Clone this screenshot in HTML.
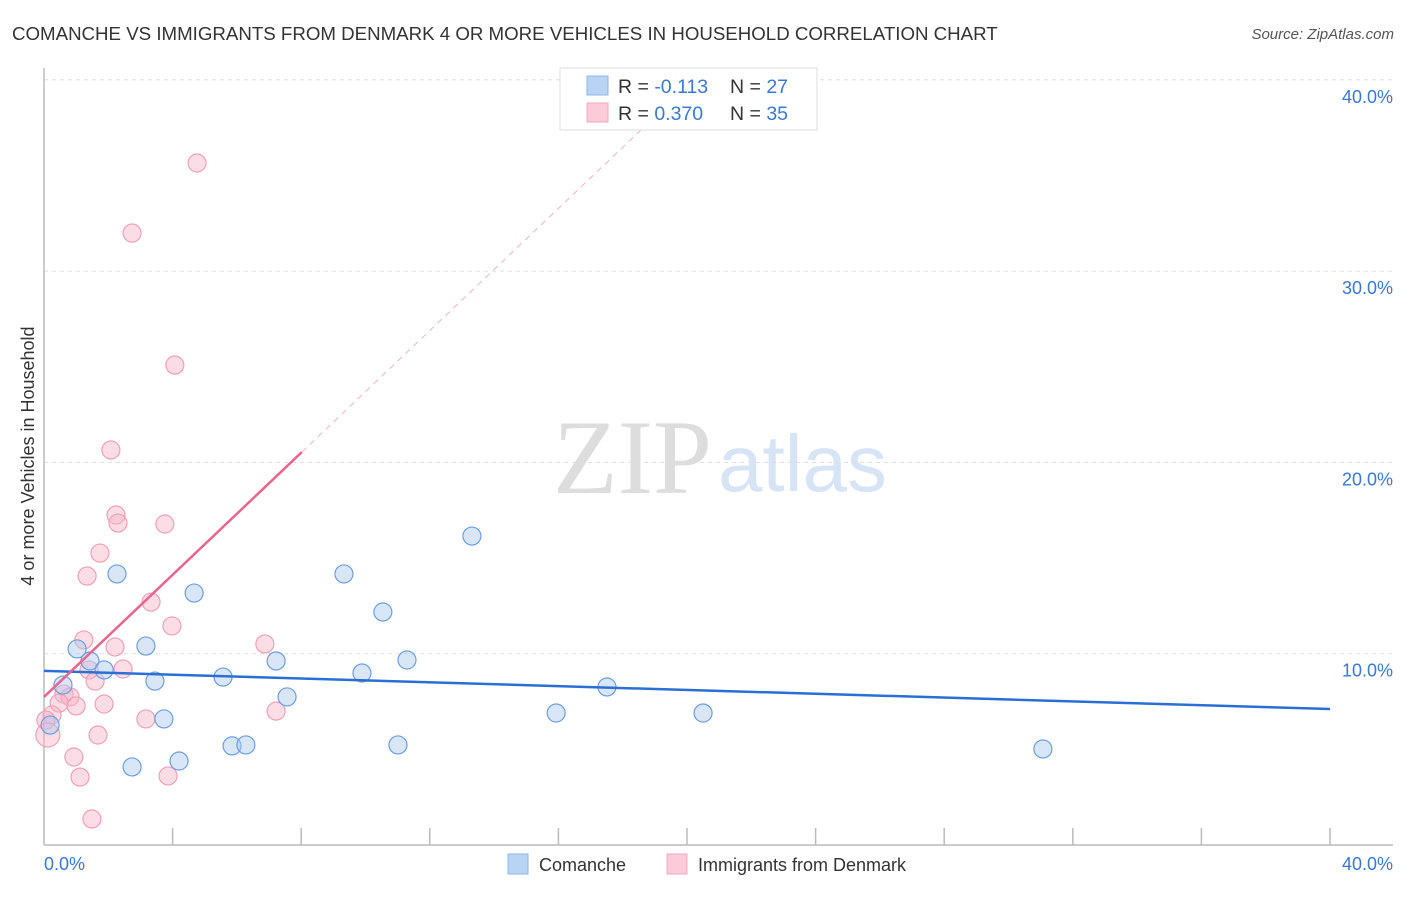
<!DOCTYPE html>
<html><head><meta charset="utf-8"><style>
body{margin:0;background:#fff;font-family:"Liberation Sans",sans-serif}
</style></head><body>
<svg width="1406" height="892" xmlns="http://www.w3.org/2000/svg">
<text x="12" y="40" font-size="18.7" fill="#333">COMANCHE VS IMMIGRANTS FROM DENMARK 4 OR MORE VEHICLES IN HOUSEHOLD CORRELATION CHART</text>
<text x="1394" y="39" font-size="15" fill="#555" font-style="italic" text-anchor="end">Source: ZipAtlas.com</text>
<text x="553" y="493" font-size="106" fill="#ddd" font-family="Liberation Serif,serif">ZIP</text>
<text x="718" y="491" font-size="80" fill="#d6e4f5">atlas</text>
<g id="grid"></g>
<g id="marks"></g>
<text transform="translate(34,456) rotate(-90)" font-size="18" fill="#333" text-anchor="middle">4 or more Vehicles in Household</text>
<text x="44" y="870" font-size="18" fill="#3a78d4">0.0%</text>
<text x="1393" y="870" font-size="18" fill="#3a78d4" text-anchor="end">40.0%</text>
<g>
<rect x="560" y="68" width="257" height="62" fill="#fff" stroke="#ddd"/>
<rect x="587" y="76" width="21" height="19" fill="#b9d3f5" stroke="#8fb6ea"/>
<rect x="587" y="103" width="21" height="19" fill="#fbcbd9" stroke="#f2a8bd"/>
<text x="618" y="93" font-size="19.5" fill="#333">R = <tspan fill="#3a78d4">-0.113</tspan></text>
<text x="730" y="93" font-size="19.5" fill="#333">N = <tspan fill="#3a78d4">27</tspan></text>
<text x="618" y="120" font-size="19.5" fill="#333">R = <tspan fill="#3a78d4">0.370</tspan></text>
<text x="730" y="120" font-size="19.5" fill="#333">N = <tspan fill="#3a78d4">35</tspan></text>
</g>
<g>
<rect x="508" y="854" width="20" height="20" fill="#b9d3f5" stroke="#8fb6ea"/>
<text x="539" y="871" font-size="18" fill="#333">Comanche</text>
<rect x="667" y="854" width="20" height="20" fill="#fbcbd9" stroke="#f2a8bd"/>
<text x="698" y="871" font-size="18" fill="#333">Immigrants from Denmark</text>
</g>
</svg>
<script>
const yTicks=[10,20,30,40];
const yTickLabels=["10.0%","20.0%","30.0%","40.0%"];
const xTicks=[4,8,12,16,20,24,28,32,36,40];
const blueX=[2.27,1.03,1.43,1.87,0.59,0.19,3.17,3.45,3.73,2.74,4.20,4.67,5.57,5.85,6.28,7.22,7.56,9.33,9.89,10.54,11.01,11.29,13.31,15.93,17.51,20.50,31.07];
const blueY=[14.17,10.25,9.62,9.15,8.36,6.27,10.40,8.57,6.59,4.08,4.39,13.17,8.78,5.18,5.23,9.62,7.74,14.17,8.99,12.18,5.23,9.67,16.15,6.90,8.26,6.90,5.02];
const pinkX=[4.76,2.74,4.07,2.08,2.24,2.30,3.76,1.74,1.34,3.33,3.98,1.24,2.21,6.87,2.46,1.40,1.59,0.62,0.81,0.47,1.00,1.87,0.25,0.06,0.12,3.17,7.22,1.68,0.93,1.12,3.86,1.49];
const pinkY=[35.65,31.99,25.09,20.65,17.25,16.83,16.78,15.26,14.06,12.70,11.45,10.72,10.35,10.51,9.20,9.15,8.57,7.89,7.74,7.42,7.27,7.37,6.80,6.53,5.75,6.59,7.00,5.75,4.60,3.55,3.61,1.36];
const blueTrend=[9.10,7.11];
const pinkTrend=[7.74,1.596];
const sx=v=>44+v*32.15, sy=v=>845-v*19.13;
const NS="http://www.w3.org/2000/svg";
const grid=document.getElementById('grid'), marks=document.getElementById('marks');
function mk(tag,at,parent){const e=document.createElementNS(NS,tag);for(const k in at)e.setAttribute(k,at[k]);parent.appendChild(e);return e;}
yTicks.forEach((t,i)=>{
 const l=mk('line',{x1:44,x2:1393,y1:sy(t),y2:sy(t),stroke:'#ddd','stroke-dasharray':'4,4'},grid);
 
 
 const tx=mk('text',{x:1393,y:sy(t)+23,'font-size':18,fill:'#3a78d4','text-anchor':'end'},grid);
 tx.textContent=yTickLabels[i];
 
 
});
xTicks.forEach(t=>{
 const l=mk('line',{x1:sx(t),x2:sx(t),y1:828,y2:845,stroke:'#bbb','stroke-width':1.5},grid);
 
 
});
let a=mk('line',{x1:44,x2:44,y1:68,y2:845,stroke:'#bbb','stroke-width':1.5},grid);


a=mk('line',{x1:44,x2:1393,y1:845,y2:845,stroke:'#bbb','stroke-width':1.5},grid);


pinkX.forEach((x,i)=>{
 const c=mk('circle',{cx:sx(x),cy:sy(pinkY[i]),r:(i==24?12:9),fill:'rgba(248,180,200,0.45)',stroke:'#f0a0b8','stroke-width':1.2},marks);
 
 
});
blueX.forEach((x,i)=>{
 const c=mk('circle',{cx:sx(x),cy:sy(blueY[i]),r:9,fill:'rgba(170,200,240,0.45)',stroke:'#6c9ee0','stroke-width':1.2},marks);
 
 
});
let t=mk('line',{x1:sx(0),y1:sy(blueTrend[0]),x2:sx(40),y2:sy(blueTrend[1]),stroke:'#2a6fd4','stroke-width':2.5},marks);


const xe=8.02, xd=(40-pinkTrend[0])/pinkTrend[1];
t=mk('line',{x1:sx(0),y1:sy(pinkTrend[0]),x2:sx(xe),y2:sy(pinkTrend[0]+pinkTrend[1]*xe),stroke:'#e8658f','stroke-width':2.5},marks);


t=mk('line',{x1:sx(xe),y1:sy(pinkTrend[0]+pinkTrend[1]*xe),x2:sx(xd),y2:sy(40),stroke:'#f0b0c4','stroke-width':1,'stroke-dasharray':'6,5'},marks);


</script>
</body></html>
